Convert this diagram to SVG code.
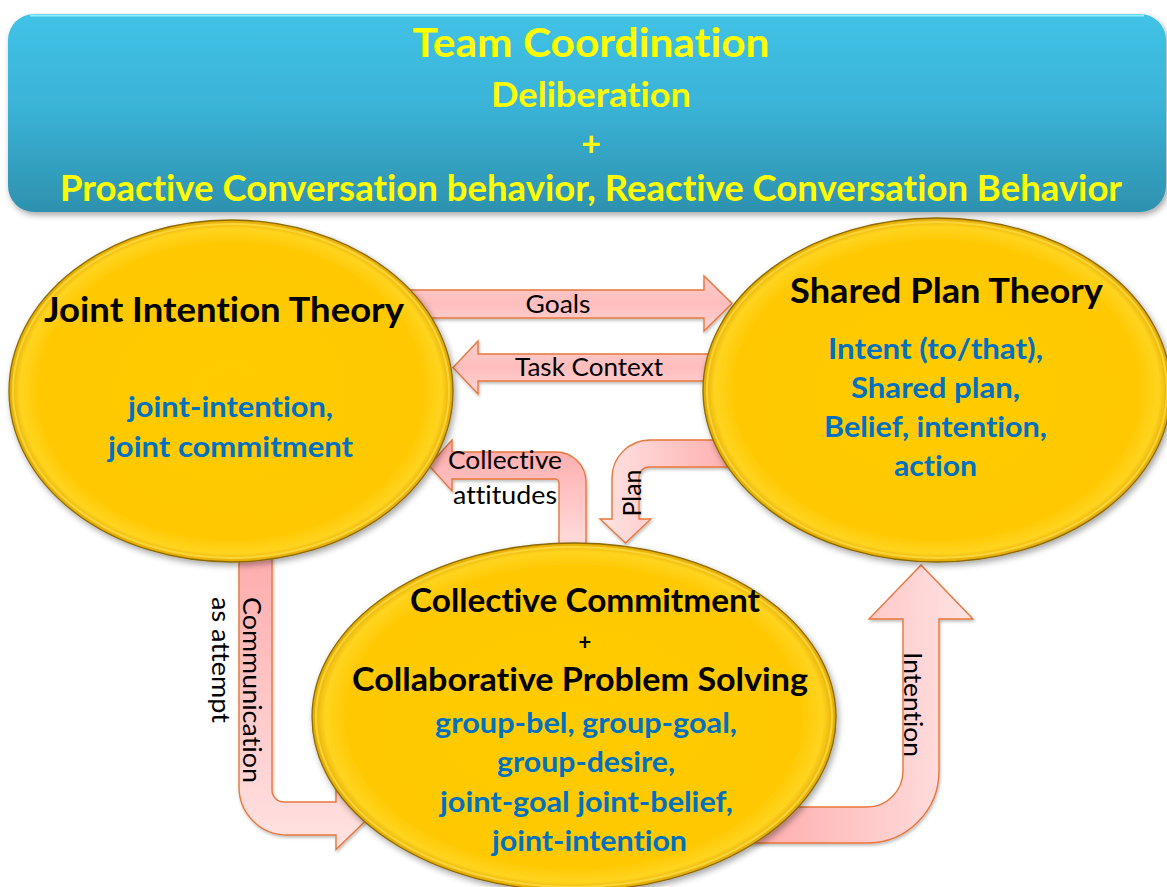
<svg xmlns="http://www.w3.org/2000/svg" width="1167" height="887" viewBox="0 0 1167 887">
  <defs>
    <linearGradient id="bannerGrad" x1="0" y1="0" x2="0" y2="1">
      <stop offset="0" stop-color="#40c2e6"/>
      <stop offset="0.45" stop-color="#3ab4d8"/>
      <stop offset="1" stop-color="#2e91ae"/>
    </linearGradient>
    <radialGradient id="goldGrad" cx="50%" cy="50%" r="50%">
      <stop offset="0" stop-color="#ffcc00"/>
      <stop offset="0.86" stop-color="#ffc800"/>
      <stop offset="0.95" stop-color="#ffd420"/>
      <stop offset="1" stop-color="#e2a800"/>
    </radialGradient>
    <linearGradient id="pinkV" x1="0" y1="0" x2="0" y2="1">
      <stop offset="0" stop-color="#ffa9a9"/>
      <stop offset="1" stop-color="#ffe3e3"/>
    </linearGradient>
    <linearGradient id="pinkH" x1="0" y1="0" x2="1" y2="0">
      <stop offset="0" stop-color="#ffa9a9"/>
      <stop offset="1" stop-color="#ffe3e3"/>
    </linearGradient>
    <linearGradient id="pinkHR" x1="1" y1="0" x2="0" y2="0">
      <stop offset="0" stop-color="#ffa9a9"/>
      <stop offset="1" stop-color="#ffe3e3"/>
    </linearGradient>
    <linearGradient id="pinkFlat" x1="0" y1="0" x2="0" y2="1">
      <stop offset="0" stop-color="#ffcccc"/>
      <stop offset="0.5" stop-color="#ffbdbd"/>
      <stop offset="1" stop-color="#ffd6d6"/>
    </linearGradient>
    <filter id="shadow" x="-10%" y="-10%" width="120%" height="130%">
      <feDropShadow dx="2" dy="3" stdDeviation="3" flood-color="#000" flood-opacity="0.35"/>
    </filter>
    <filter id="ashadow" x="-10%" y="-10%" width="120%" height="130%">
      <feDropShadow dx="1" dy="2" stdDeviation="1.5" flood-color="#000" flood-opacity="0.25"/>
    </filter>
  </defs>
  <style>
    text { font-variant-ligatures: none; font-feature-settings: "liga" 0, "clig" 0; }
    .banner-t { font-family: "Lato", "Open Sans", sans-serif; font-weight: 700; fill: #ffff00; text-anchor: middle; }
    .head { font-family: "Lato", "Open Sans", sans-serif; font-weight: 700; fill: #000; text-anchor: middle; }
    .blue { font-family: "Lato", "Open Sans", sans-serif; font-weight: 700; fill: #0070c0; text-anchor: middle; font-size: 29px; }
    .lbl { font-family: "Lato", "Open Sans", sans-serif; font-weight: 400; fill: #000; text-anchor: middle; font-size: 25px; }
    .ell { fill: url(#goldGrad); stroke: #8c6b00; stroke-width: 1.3; filter: url(#shadow); }
    .rim { fill: none; stroke: #ffe04a; stroke-width: 2; opacity: 0.7; }
    .arrow { stroke: #e8773a; stroke-width: 1.4; stroke-linejoin: miter; filter: url(#ashadow); }
  </style>

  <rect width="1167" height="887" fill="#ffffff"/>

  <g id="banner">
    <rect x="8" y="14" width="1158" height="198" rx="26" ry="26" fill="url(#bannerGrad)" filter="url(#shadow)"/>
    <path d="M30,15.5 H1144" stroke="#8ff0ff" stroke-width="2" fill="none"/>
    <text class="banner-t" x="591" y="57" font-size="40" textLength="357" lengthAdjust="spacingAndGlyphs">Team Coordination</text>
    <text class="banner-t" x="591" y="107" font-size="34" textLength="200" lengthAdjust="spacingAndGlyphs">Deliberation</text>
    <text class="banner-t" x="591" y="156" font-size="34">+</text>
    <text class="banner-t" x="591" y="201" font-size="36" textLength="1062" lengthAdjust="spacingAndGlyphs">Proactive Conversation behavior, Reactive Conversation Behavior</text>
  </g>

  <g id="connectors">
    <!-- Goals: left to right -->
    <path class="arrow" fill="url(#pinkFlat)" d="M390,290 H704 V276 L732,303.5 L704,331 V318 H390 Z"/>
    <text class="lbl" x="558" y="313" textLength="65" lengthAdjust="spacingAndGlyphs">Goals</text>
    <!-- Task Context: right to left -->
    <path class="arrow" fill="url(#pinkFlat)" d="M730,354 H478 V341 L453,367.5 L478,394 V381 H730 Z"/>
    <text class="lbl" x="589" y="376" textLength="148" lengthAdjust="spacingAndGlyphs">Task Context</text>
    <!-- Collective attitudes: bottom ellipse up then left -->
    <path class="arrow" fill="url(#pinkV)" d="M586,560 V482 A30,30 0 0 0 556,452 H452 V440 L429,465.5 L452,491 V479 H555 A4,4 0 0 1 559,483 V560 Z"/>
    <text class="lbl" x="505" y="469" textLength="114" lengthAdjust="spacingAndGlyphs">Collective</text>
    <text class="lbl" x="505" y="504" textLength="104" lengthAdjust="spacingAndGlyphs">attitudes</text>
    <!-- Plan: right ellipse left then down -->
    <path class="arrow" fill="url(#pinkHR)" d="M745,440 H650 A38,38 0 0 0 612,478 V519 H600 L625.5,543 L651,519 H639 V477 A10,10 0 0 1 649,467 H745 Z"/>
    <text class="lbl" transform="translate(641,493) rotate(-90)" x="0" y="0" textLength="47" lengthAdjust="spacingAndGlyphs">Plan</text>
    <!-- Communication as attempt: left ellipse down then right -->
    <path class="arrow" fill="url(#pinkV)" d="M239,540 V787 A48,48 0 0 0 287,835 H336 V849.5 L368,818.5 L336,787.5 V802 H284 A12,12 0 0 1 272,790 V540 Z"/>
    <text class="lbl" transform="translate(243,690) rotate(90)" x="0" y="0" textLength="186" lengthAdjust="spacingAndGlyphs">Communication</text>
    <text class="lbl" transform="translate(212,660) rotate(90)" x="0" y="0" textLength="126" lengthAdjust="spacingAndGlyphs">as attempt</text>
    <!-- Intention: bottom ellipse right then up -->
    <path class="arrow" fill="url(#pinkH)" d="M740,807 H867 A36,36 0 0 0 903,771 V619 H869 L921,565 L973,619 H939 V771 A72,72 0 0 1 867,843 H740 Z"/>
    <text class="lbl" transform="translate(904,704.5) rotate(90)" x="0" y="0" textLength="105" lengthAdjust="spacingAndGlyphs">Intention</text>
  </g>

  <g id="node-joint-intention">
    <ellipse class="ell" cx="231" cy="391" rx="222" ry="171"/>
    <ellipse class="rim" cx="231" cy="391" rx="218" ry="167"/>
    <text class="head" x="224" y="322" font-size="34" textLength="360" lengthAdjust="spacingAndGlyphs">Joint Intention Theory</text>
    <text class="blue" x="230.5" y="417" textLength="205" lengthAdjust="spacingAndGlyphs">joint-intention,</text>
    <text class="blue" x="230.5" y="457" textLength="245" lengthAdjust="spacingAndGlyphs">joint commitment</text>
  </g>

  <g id="node-shared-plan">
    <ellipse class="ell" cx="937" cy="390" rx="234" ry="172"/>
    <ellipse class="rim" cx="937" cy="390" rx="230" ry="168"/>
    <text class="head" x="946.5" y="303" font-size="34" textLength="313" lengthAdjust="spacingAndGlyphs">Shared Plan Theory</text>
    <text class="blue" x="935.5" y="359" textLength="215" lengthAdjust="spacingAndGlyphs">Intent (to/that),</text>
    <text class="blue" x="935.5" y="398" textLength="169" lengthAdjust="spacingAndGlyphs">Shared plan,</text>
    <text class="blue" x="935.5" y="437" textLength="223" lengthAdjust="spacingAndGlyphs">Belief, intention,</text>
    <text class="blue" x="935.5" y="476" textLength="83" lengthAdjust="spacingAndGlyphs">action</text>
  </g>

  <g id="node-collective">
    <ellipse class="ell" cx="574" cy="717" rx="262" ry="174"/>
    <ellipse class="rim" cx="574" cy="717" rx="258" ry="170"/>
    <text class="head" x="585" y="612" font-size="32" textLength="350" lengthAdjust="spacingAndGlyphs">Collective Commitment</text>
    <text class="head" x="585" y="650" font-size="22">+</text>
    <text class="head" x="580" y="691" font-size="33" textLength="456" lengthAdjust="spacingAndGlyphs">Collaborative Problem Solving</text>
    <text class="blue" x="586" y="733" textLength="302" lengthAdjust="spacingAndGlyphs">group-bel, group-goal,</text>
    <text class="blue" x="586" y="772" textLength="178" lengthAdjust="spacingAndGlyphs">group-desire,</text>
    <text class="blue" x="586.5" y="812" textLength="293" lengthAdjust="spacingAndGlyphs">joint-goal joint-belief,</text>
    <text class="blue" x="589.5" y="851" textLength="195" lengthAdjust="spacingAndGlyphs">joint-intention</text>
  </g>
</svg>
